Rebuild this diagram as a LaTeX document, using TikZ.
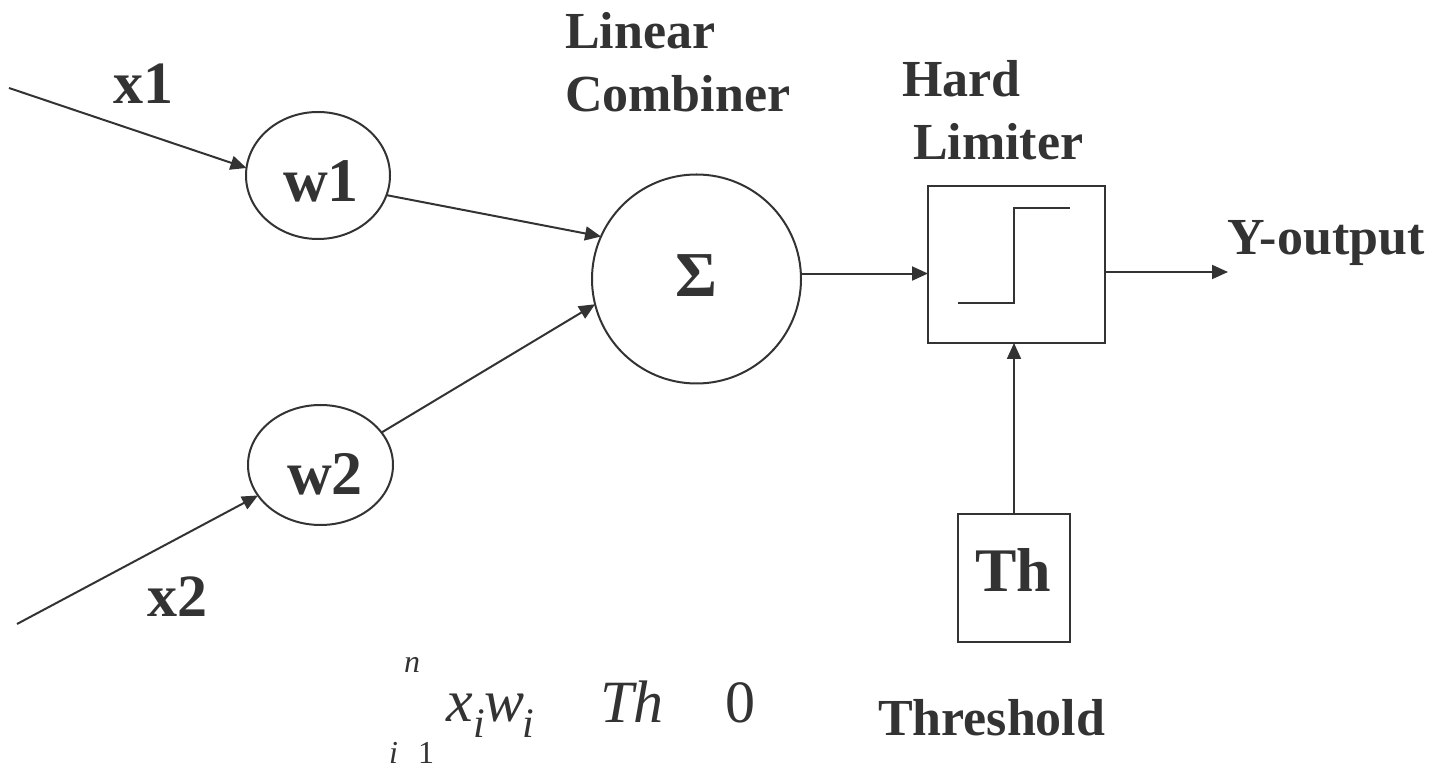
\documentclass[tikz,border=0pt]{standalone}
\usepackage{fontspec}
\setmainfont{Liberation Serif}
\usetikzlibrary{arrows.meta,shapes.geometric}
\definecolor{ink}{HTML}{333333}
\tikzset{
  every node/.style={text=ink, inner sep=0pt, outer sep=0pt},
  wire/.style={draw=ink, line width=1pt},
  arr/.style={wire, -{Triangle[length=8pt,width=7pt]}},
  lab/.style={font=\bfseries\fontsize{26}{31}\selectfont, anchor=base west},
  big/.style={font=\bfseries\fontsize{30}{36}\selectfont, anchor=base west},
  mth/.style={font=\itshape\fontsize{30}{34}\selectfont, anchor=base west},
  sub/.style={font=\itshape\fontsize{21}{24}\selectfont, anchor=base west},
  lim/.style={font=\fontsize{16}{18}\selectfont, anchor=base west},
  weight/.style={draw=ink, line width=1pt, ellipse},
  block/.style={draw=ink, line width=1.1pt, rectangle}
}
\begin{document}
\begin{tikzpicture}[x=0.5pt, y=-0.5pt]
\useasboundingbox (0,0) rectangle (1441,769);

% weights, summing junction and blocks
\node[weight, minimum width=72pt, minimum height=63.5pt] (w1) at (318,175.5) {};
\node[weight, minimum width=72.5pt, minimum height=60pt] (w2) at (320.5,465) {};
\node[draw=ink, line width=1pt, circle, minimum size=104.5pt] (sig) at (696.5,279) {};
\node[block, minimum width=88.5pt, minimum height=78.5pt] (lim) at (1016.5,264.5) {};
\node[block, minimum width=56pt, minimum height=64pt] (th) at (1014,578) {};

% step characteristic of the hard limiter
\draw[wire] (958,303) -- (1014,303) -- (1014,208) -- (1070,208);

% inputs and output ends
\coordinate (x1s) at (9,88);
\coordinate (x2s) at (17,624);
\coordinate (yend) at (1228,272);

% connectors
\draw[arr] (x1s) -- (w1.174);
\draw[arr] (x2s) -- (w2.206);
\draw[arr] (w1.344) -- (sig.156);
\draw[arr] (w2.28) -- (sig.194);
\draw[arr] (sig.3.8) -- (sig.3.8 -| lim.west);
\draw[arr] (lim.east |- yend) -- (yend);
\draw[arr] (th.north) -- (th.north |- lim.south);

% labels
\node[big] (tx1) at (113,104) {x1};
\node[big] (tx2) at (147,617) {x2};
\node[big, font=\bfseries\fontsize{31}{36}\selectfont] (tw1) at (283,202) {w1};
\node[big, font=\bfseries\fontsize{31}{36}\selectfont] (tw2) at (287,495) {w2};
\node[big, font=\bfseries\fontsize{32}{36}\selectfont, anchor=base] (tsig) at (696.5,297) {Σ};
\node[big, font=\bfseries\fontsize{31}{36}\selectfont] (tth) at (975,592) {Th};
\node[lab] (lin) at (565,49) {Linear};
\node[lab] (comb) at (565,112) {Combiner};
\node[lab] (hard) at (902,97) {Hard};
\node[lab] (limt) at (913,160) {Limiter};
\node[lab] (yout) at (1227,255) {Y-output};
\node[lab] (thr) at (878,735) {Threshold};

% decision rule
\node[lim] (fn) at (404,673) {\itshape n};
\node[mth] (fx) at (446,722) {x};
\node[sub] (fxi) at (473,738) {i};
\node[mth] (fw) at (484,722) {w};
\node[sub] (fwi) at (522,738) {i};
\node[mth] (fth) at (600,723) {Th};
\node[mth, font=\fontsize{30}{34}\selectfont] (fz) at (725,723) {0};
\node[lim] (fi) at (389,763) {\itshape i};
\node[lim] (fone) at (418,763) {1};
\end{tikzpicture}
\end{document}
